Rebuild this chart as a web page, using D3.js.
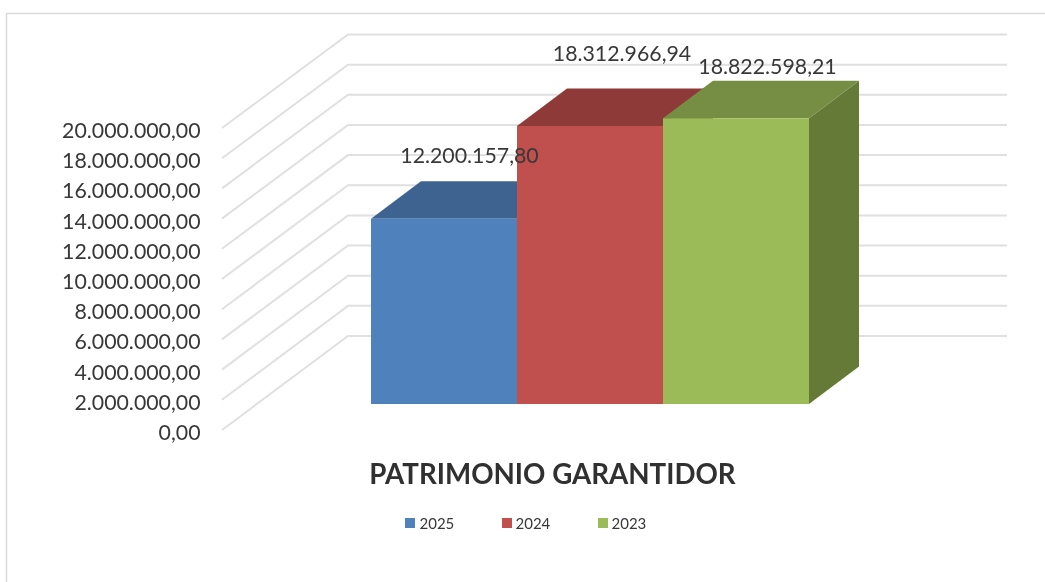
<!DOCTYPE html>
<html><head><meta charset="utf-8">
<style>html,body{margin:0;padding:0;background:#fff}svg{display:block;filter:blur(0.4px)}</style>
<script src="https://cdn.jsdelivr.net/npm/d3@7"></script></head>
<body><svg id="c" width="1045" height="582"></svg>
<script>
const categories=["2025","2024","2023"];
const values=[12200157.80,18312966.94,18822598.21];
const valueLabels=["12.200.157,80","18.312.966,94","18.822.598,21"];
const tickValues=[0,2e6,4e6,6e6,8e6,1e7,1.2e7,1.4e7,1.6e7,1.8e7,2e7];
const tickLabels=["0,00","2.000.000,00","4.000.000,00","6.000.000,00","8.000.000,00","10.000.000,00","12.000.000,00","14.000.000,00","16.000.000,00","18.000.000,00","20.000.000,00"];
const faceColors=["#4F81BD","#C0504D","#9BBB59"];
const topColors=["#3E6390","#8E3A38","#768E44"];
const sideColor="#667A38";
const title="PATRIMONIO GARANTIDOR";

const svg=d3.select("#c");
const font="Lato, Carlito, sans-serif", ink="#383838";
svg.append("rect").attr("x",6.5).attr("y",13.5).attr("width",1060).attr("height",600).attr("fill","#fff").attr("stroke","#d9d9d9").attr("stroke-width",1.5);

const yFront=d3.scaleLinear().domain([0,2e7]).range([430,128]);
const yBack=d3.scaleLinear().domain([0,2e7]).range([336,34.5]);
const yBar=d3.scaleLinear().domain([0,2e7]).range([404,100.4]);
const x=d3.scaleBand().domain(categories).range([371,809]);
const dx=50, dy=-37.5;

const g=svg.append("g").attr("fill","none").attr("stroke","#e0e0e0").attr("stroke-width",2);
tickValues.forEach(t=>{
  g.append("path").attr("d",d3.line()([[222,yFront(t)],[348,yBack(t)],[1007,yBack(t)]]));
});

svg.append("g").selectAll("text").data(tickValues).join("text")
 .attr("x",200.5).attr("y",d=>yFront(d)+10).attr("text-anchor","end")
 .attr("font-family",font).attr("font-size",21.3).attr("fill",ink)
 .text((d,i)=>tickLabels[i]);

const bars=svg.append("g");
categories.forEach((c,i)=>{
  const x0=x(c), x1=x0+x.bandwidth(), yt=yBar(values[i]), yb=yBar(0);
  bars.append("path").attr("fill",sideColor).attr("d",d3.line()([[x1,yt],[x1+dx,yt+dy],[x1+dx,yb+dy],[x1,yb]])+"Z");
  bars.append("path").attr("fill",topColors[i]).attr("d",d3.line()([[x0,yt],[x0+dx,yt+dy],[x1+dx,yt+dy],[x1,yt]])+"Z");
  bars.append("rect").attr("x",x0).attr("y",yt).attr("width",x.bandwidth()).attr("height",yb-yt).attr("fill",faceColors[i]);
});

const labelPos=[[469.5,163],[622,60.5],[767.5,74]];
svg.append("g").selectAll("text").data(valueLabels).join("text")
 .attr("x",(d,i)=>labelPos[i][0]).attr("y",(d,i)=>labelPos[i][1]).attr("text-anchor","middle")
 .attr("font-family",font).attr("font-size",21.3).attr("fill",ink).text(d=>d);

svg.append("text").attr("x",552.5).attr("y",484).attr("text-anchor","middle")
 .attr("font-family",font).attr("font-size",27.7).attr("font-weight",700).attr("fill","#303030").text(title);

const legendX=[405,502,598], legendTextX=[419.5,515.5,611.5];
const lg=svg.append("g").selectAll("g").data(categories).join("g");
lg.append("rect").attr("x",(d,i)=>legendX[i]).attr("y",518).attr("width",10).attr("height",10).attr("fill",(d,i)=>faceColors[i]);
lg.append("text").attr("x",(d,i)=>legendTextX[i]).attr("y",528.5).attr("font-family",font).attr("font-size",15).attr("fill",ink).text(d=>d);
</script></body></html>
